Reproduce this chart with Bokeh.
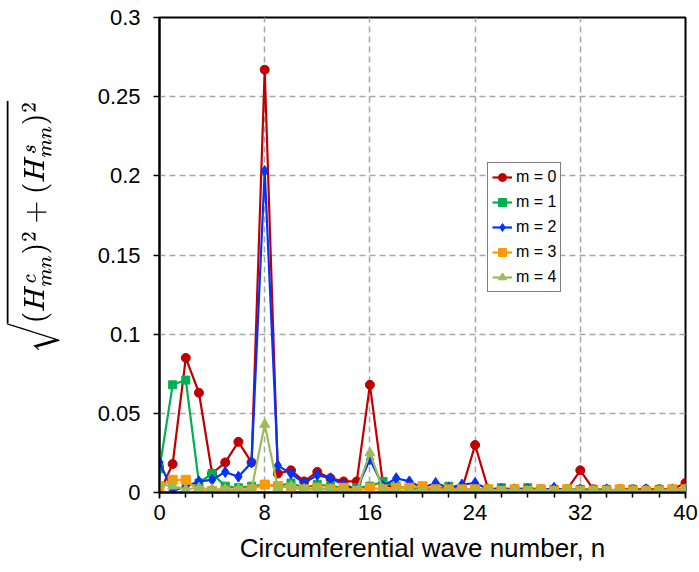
from bokeh.plotting import figure
from bokeh.models import Legend, LegendItem, FixedTicker
from bokeh.embed import file_html
from bokeh.resources import INLINE

# circumferential wave numbers
n = list(range(41))

# harmonic amplitude sqrt((Hc)^2 + (Hs)^2) for each axial order m
m0 = [0.000, 0.018, 0.085, 0.063, 0.012, 0.019, 0.032, 0.019, 0.267, 0.012,
      0.014, 0.007, 0.013, 0.009, 0.007, 0.007, 0.068, 0.005, 0.003, 0.003,
      0.003, 0.002, 0.003, 0.002, 0.030, 0.002, 0.002, 0.002, 0.002, 0.002,
      0.001, 0.002, 0.014, 0.002, 0.001, 0.002, 0.002, 0.002, 0.002, 0.002,
      0.006]
m1 = [0.015, 0.068, 0.071, 0.006, 0.012, 0.004, 0.003, 0.004, 0.005, 0.004,
      0.006, 0.003, 0.005, 0.004, 0.003, 0.003, 0.004, 0.007, 0.004, 0.002,
      0.003, 0.002, 0.004, 0.002, 0.002, 0.002, 0.003, 0.002, 0.003, 0.002,
      0.002, 0.002, 0.002, 0.002, 0.002, 0.001, 0.002, 0.001, 0.002, 0.001,
      0.002]
m2 = [0.019, 0.001, 0.004, 0.007, 0.008, 0.013, 0.010, 0.019, 0.203, 0.017,
      0.012, 0.006, 0.011, 0.009, 0.005, 0.002, 0.021, 0.004, 0.009, 0.007,
      0.003, 0.006, 0.003, 0.005, 0.006, 0.002, 0.002, 0.002, 0.002, 0.001,
      0.003, 0.001, 0.002, 0.001, 0.002, 0.001, 0.001, 0.002, 0.001, 0.002,
      0.002]
m3 = [0.004, 0.008, 0.008, 0.001, 0.001, 0.001, 0.001, 0.002, 0.005, 0.004,
      0.003, 0.002, 0.003, 0.002, 0.003, 0.001, 0.003, 0.002, 0.003, 0.003,
      0.004, 0.002, 0.002, 0.002, 0.002, 0.002, 0.001, 0.002, 0.001, 0.002,
      0.001, 0.002, 0.001, 0.001, 0.001, 0.002, 0.001, 0.001, 0.001, 0.002,
      0.002]
m4 = [0.005, 0.004, 0.002, 0.003, 0.002, 0.002, 0.002, 0.002, 0.043, 0.003,
      0.004, 0.002, 0.002, 0.002, 0.001, 0.001, 0.025, 0.002, 0.001, 0.001,
      0.001, 0.001, 0.001, 0.001, 0.001, 0.001, 0.001, 0.001, 0.001, 0.001,
      0.001, 0.001, 0.001, 0.001, 0.001, 0.001, 0.001, 0.001, 0.001, 0.001,
      0.002]

labels = ["m = 0", "m = 1", "m = 2", "m = 3", "m = 4"]
colors = ["#C00000", "#00B050", "#0033FF", "#FF9900", "#9BBB59"]
markers = ["circle", "square", "diamond", "square", "triangle"]
sizes = [9, 8, 11, 9, 10]
series = [m0, m1, m2, m3, m4]

x_ticks = [0, 8, 16, 24, 32, 40]
y_ticks = [0, 0.05, 0.1, 0.15, 0.2, 0.25, 0.3]
y_tick_labels = ["0", "0.05", "0.1", "0.15", "0.2", "0.25", "0.3"]

FONT = "Liberation Sans"

p = figure(width=699, height=572, x_range=(0, 40), y_range=(0, 0.3),
           output_backend="svg", toolbar_location=None,
           min_border_left=159, min_border_right=14,
           min_border_top=17, min_border_bottom=80)
p.outline_line_color = "black"
p.outline_line_width = 2
p.background_fill_color = "white"
p.border_fill_color = "white"

# axes
p.xaxis.ticker = FixedTicker(ticks=x_ticks, minor_ticks=list(range(0, 41, 2)))
p.yaxis.ticker = FixedTicker(ticks=y_ticks)
p.yaxis.major_label_overrides = {t: s for t, s in zip(y_ticks, y_tick_labels)}
for ax in (p.xaxis, p.yaxis):
    ax.axis_line_color = "black"
    ax.axis_line_width = 2
    ax.major_tick_line_color = "black"
    ax.major_tick_line_width = 1.5
    ax.major_tick_out = 6
    ax.major_tick_in = 0
    ax.major_label_text_font = FONT
    ax.major_label_text_font_size = "22px"
    ax.major_label_text_color = "black"
p.xaxis.minor_tick_line_color = "black"
p.xaxis.minor_tick_line_width = 1.5
p.xaxis.minor_tick_out = 5
p.xaxis.minor_tick_in = 0
p.yaxis.minor_tick_line_color = None
p.xaxis.major_label_standoff = 6
p.yaxis.major_label_standoff = 13

p.xaxis.axis_label = "Circumferential wave number, n"
p.xaxis.axis_label_text_font = FONT
p.xaxis.axis_label_text_font_size = "26px"
p.xaxis.axis_label_text_font_style = "normal"
p.xaxis.axis_label_text_color = "black"
p.xaxis.axis_label_standoff = 10

# leading space lifts the formula a little above the axis centre
p.yaxis.axis_label = r"$$\hspace{1.9em}\sqrt{(H^c_{mn})^2 + (H^s_{mn})^2}$$"
p.yaxis.axis_label_text_font_size = "23px"
p.yaxis.axis_label_text_color = "black"
p.yaxis.axis_label_standoff = 35

# grid
p.xgrid.ticker = FixedTicker(ticks=x_ticks)
p.ygrid.ticker = FixedTicker(ticks=y_ticks)
for g in (p.xgrid, p.ygrid):
    g.grid_line_color = "#A6A6A6"
    g.grid_line_width = 1.5
    g.grid_line_dash = "6 4"

# series
items = []
for vals, lab, col, mk, sz in zip(series, labels, colors, markers, sizes):
    r_line = p.line(n, vals, line_color=col, line_width=2.2)
    r_pts = p.scatter(n, vals, marker=mk, size=sz, fill_color=col,
                      line_color=col)
    items.append(LegendItem(label=lab, renderers=[r_line, r_pts]))

legend = Legend(items=items, location=(328, 200))
legend.label_text_font = FONT
legend.label_text_font_size = "16px"
legend.label_text_color = "black"
legend.glyph_width = 20
legend.glyph_height = 20
legend.label_height = 20
legend.spacing = 5
legend.padding = 4
legend.margin = 0
legend.label_standoff = 4
legend.border_line_color = "black"
legend.border_line_width = 1.5
legend.background_fill_alpha = 1
p.add_layout(legend, "center")

open("out.html", "w").write(file_html(p, INLINE))
